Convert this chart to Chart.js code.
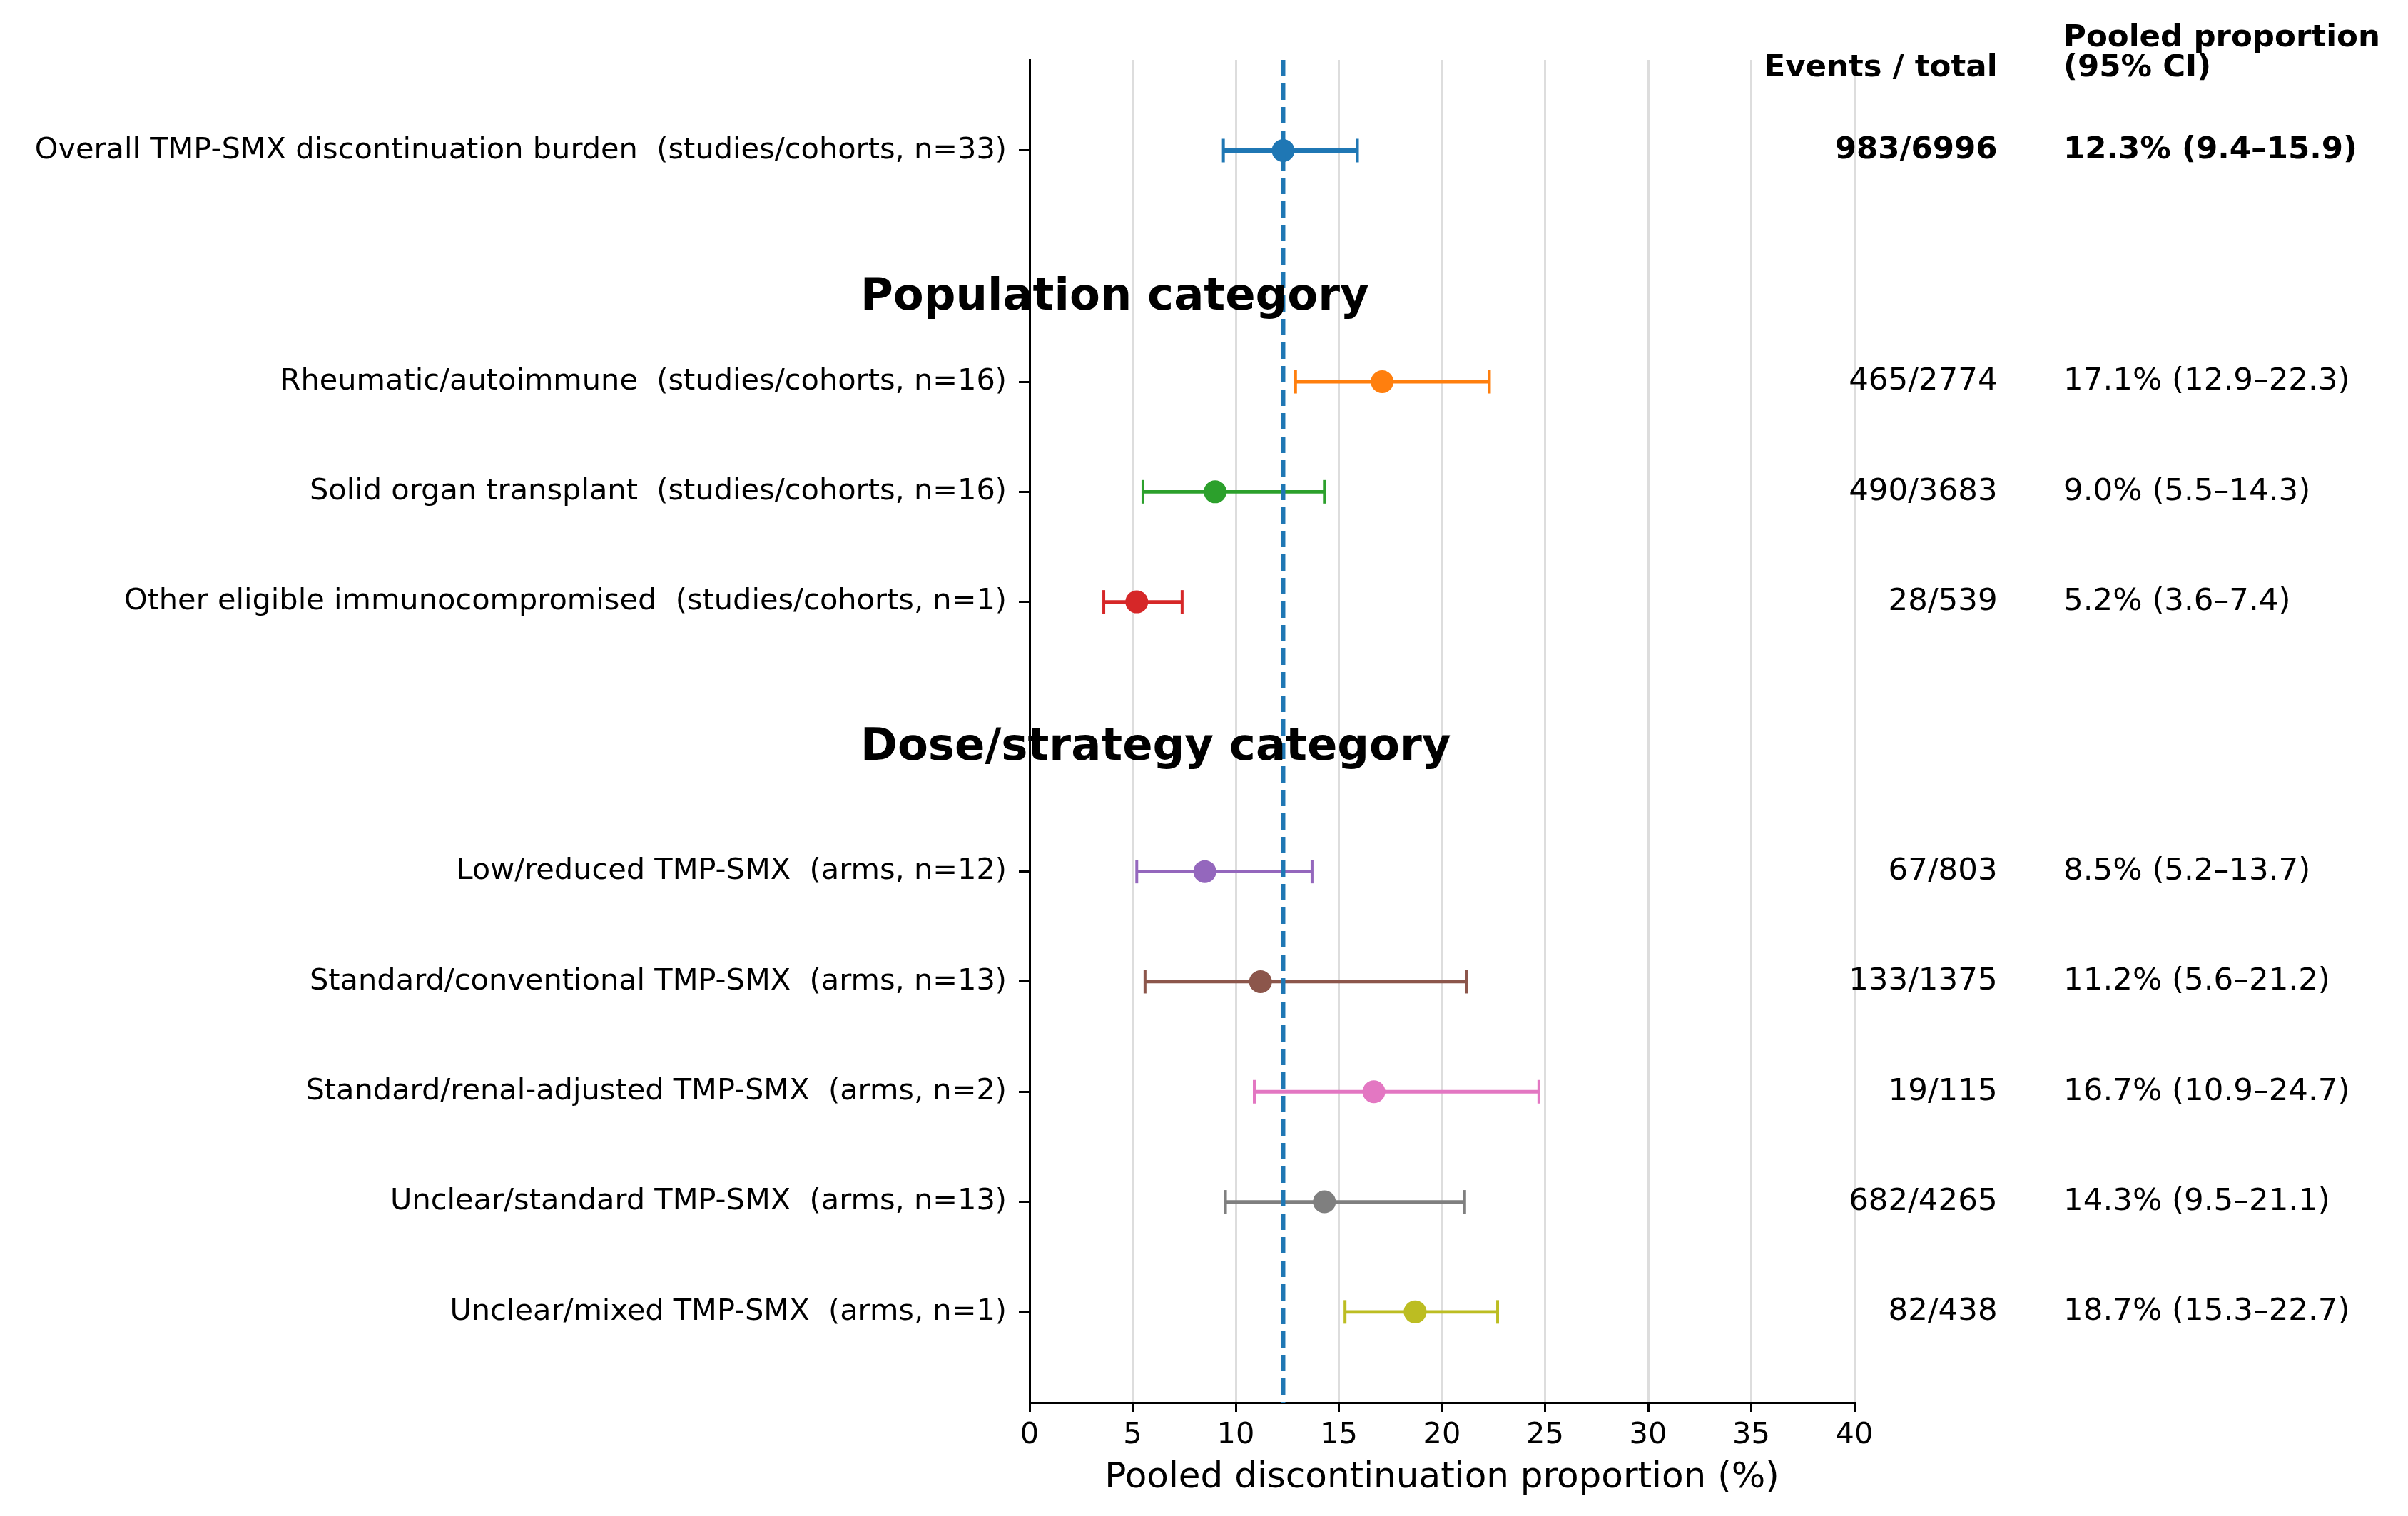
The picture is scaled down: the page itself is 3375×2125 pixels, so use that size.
<!DOCTYPE html>
<html>
<head>
<meta charset="utf-8">
<title>TMP-SMX discontinuation forest plot</title>
<script src="https://cdn.jsdelivr.net/npm/chart.js@4.4.1/dist/chart.umd.min.js"></script>
<style>
    html, body { margin: 0; padding: 0; background: #fff; }
    #wrap { width: 3375px; height: 2125px; }
</style>
</head>
<body>
<div id="wrap"><canvas id="forest" width="3375" height="2125"></canvas></div>
<script>
/* ==================== Data ==================== */
const rowLabels = [
    'Overall TMP-SMX discontinuation burden  (studies/cohorts, n=33)',
    'Rheumatic/autoimmune  (studies/cohorts, n=16)',
    'Solid organ transplant  (studies/cohorts, n=16)',
    'Other eligible immunocompromised  (studies/cohorts, n=1)',
    'Low/reduced TMP-SMX  (arms, n=12)',
    'Standard/conventional TMP-SMX  (arms, n=13)',
    'Standard/renal-adjusted TMP-SMX  (arms, n=2)',
    'Unclear/standard TMP-SMX  (arms, n=13)',
    'Unclear/mixed TMP-SMX  (arms, n=1)'
];
const pooled = [12.3, 17.1, 9.0, 5.2, 8.5, 11.2, 16.7, 14.3, 18.7];
const ciLow  = [9.4, 12.9, 5.5, 3.6, 5.2, 5.6, 10.9, 9.5, 15.3];
const ciHigh = [15.9, 22.3, 14.3, 7.4, 13.7, 21.2, 24.7, 21.1, 22.7];
const events = [983, 465, 490, 28, 67, 133, 19, 682, 82];
const totals = [6996, 2774, 3683, 539, 803, 1375, 115, 4265, 438];
const groupHeaders = ['Population category', 'Dose/strategy category'];
const xTickValues = [0, 5, 10, 15, 20, 25, 30, 35, 40];
const overallRef = 12.3;

/* ==================== Layout / style ==================== */
const ROW_Y = [0, 2.1, 3.1, 4.1, 6.55, 7.55, 8.55, 9.55, 10.55];
const HEADER_Y = [1.445, 5.535];      // baseline of group headers
const HEADER_X = -8.2;                // data x where group headers start
const Y_RANGE = [-0.823, 11.374];
const COLORS = ['#1f77b4', '#ff7f0e', '#2ca02c', '#d62728', '#9467bd',
                '#8c564b', '#e377c2', '#7f7f7f', '#bcbd22'];
const FONT = "'DejaVu Sans'";
const CAP = 16.5;

Chart.defaults.font.family = FONT;
Chart.defaults.color = '#000';

/* ==================== Forest decorations ==================== */
const forestDecor = {
    id: 'forestDecor',
    beforeDatasetsDraw(chart) {
        const { ctx, scales: { x, y } } = chart;
        ctx.save();
        pooled.forEach((v, i) => {
            const py = y.getPixelForValue(ROW_Y[i]);
            const x0 = x.getPixelForValue(ciLow[i]);
            const x1 = x.getPixelForValue(ciHigh[i]);
            ctx.strokeStyle = COLORS[i];
            ctx.lineWidth = i === 0 ? 6 : 4.8;
            ctx.beginPath();
            ctx.moveTo(x0, py);
            ctx.lineTo(x1, py);
            ctx.stroke();
            ctx.lineWidth = 4;
            [x0, x1].forEach(cx => {
                ctx.beginPath();
                ctx.moveTo(cx, py - CAP);
                ctx.lineTo(cx, py + CAP);
                ctx.stroke();
            });
        });
        ctx.restore();
    },
    afterDatasetsDraw(chart) {
        const { ctx, chartArea, scales: { x, y } } = chart;
        ctx.save();

        // reference line at the overall estimate
        const rx = x.getPixelForValue(overallRef);
        ctx.strokeStyle = COLORS[0];
        ctx.lineWidth = 6;
        ctx.setLineDash([23, 10]);
        ctx.beginPath();
        ctx.moveTo(rx, chartArea.top);
        ctx.lineTo(rx, chartArea.bottom);
        ctx.stroke();
        ctx.setLineDash([]);

        // group headers
        ctx.fillStyle = '#000';
        ctx.font = `bold 62.5px ${FONT}`;
        ctx.textAlign = 'left';
        ctx.textBaseline = 'alphabetic';
        groupHeaders.forEach((h, i) => {
            ctx.fillText(h, x.getPixelForValue(HEADER_X), y.getPixelForValue(HEADER_Y[i]));
        });

        // right-hand columns
        const w = chartArea.right - chartArea.left;
        const colEvents = chartArea.left + 1.1735 * w;
        const colPooled = chartArea.left + 1.2535 * w;

        ctx.font = `bold 43.5px ${FONT}`;
        ctx.textAlign = 'right';
        ctx.fillText('Events / total', colEvents, chartArea.top + 23);
        ctx.textAlign = 'left';
        ctx.fillText('Pooled proportion', colPooled, chartArea.top - 19);
        ctx.fillText('(95% CI)', colPooled, chartArea.top + 23);

        ctx.textBaseline = 'middle';
        pooled.forEach((v, i) => {
            const py = y.getPixelForValue(ROW_Y[i]);
            ctx.font = `${i === 0 ? 'bold ' : ''}43.5px ${FONT}`;
            ctx.textAlign = 'right';
            ctx.fillText(`${events[i]}/${totals[i]}`, colEvents, py);
            ctx.textAlign = 'left';
            ctx.fillText(`${v.toFixed(1)}% (${ciLow[i].toFixed(1)}\u2013${ciHigh[i].toFixed(1)})`, colPooled, py);
        });
        ctx.restore();
    }
};

/* ==================== Chart ==================== */
const ctx = document.getElementById('forest');
new Chart(ctx, {
    type: 'scatter',
    data: {
        datasets: [{
            data: pooled.map((v, i) => ({ x: v, y: ROW_Y[i] })),
            backgroundColor: COLORS,
            borderWidth: 0,
            pointRadius: 16,
            pointHoverRadius: 16
        }]
    },
    options: {
        responsive: false,
        devicePixelRatio: 1,
        animation: false,
        layout: { padding: { left: 0, right: 776, top: 84, bottom: 0 } },
        plugins: {
            legend: { display: false },
            tooltip: { enabled: false }
        },
        scales: {
            x: {
                type: 'linear',
                min: 0,
                max: 40,
                afterFit: s => { s.height = 159; },
                afterBuildTicks: s => { s.ticks = xTickValues.map(v => ({ value: v })); },
                grid: {
                    color: '#dddddd',
                    lineWidth: 3,
                    drawTicks: true,
                    tickLength: 13,
                    tickColor: '#000',
                    tickWidth: 3
                },
                border: { display: true, color: '#000', width: 3 },
                ticks: {
                    font: { size: 41.5 },
                    padding: 8,
                    maxRotation: 0,
                    autoSkip: false
                },
                title: {
                    display: true,
                    text: 'Pooled discontinuation proportion (%)',
                    font: { size: 50 },
                    padding: { top: 0, bottom: 23 }
                }
            },
            y: {
                type: 'linear',
                reverse: true,
                min: Y_RANGE[0],
                max: Y_RANGE[1],
                afterFit: s => { s.width = 1443; },
                afterBuildTicks: s => { s.ticks = ROW_Y.map(v => ({ value: v })); },
                grid: {
                    drawOnChartArea: false,
                    drawTicks: true,
                    tickLength: 15,
                    tickColor: '#000',
                    tickWidth: 3
                },
                border: { display: true, color: '#000', width: 3 },
                ticks: {
                    font: { size: 41.5 },
                    padding: 17,
                    autoSkip: false,
                    callback: (value, index) => rowLabels[index]
                }
            }
        }
    },
    plugins: [forestDecor]
});
</script>
</body>
</html>
